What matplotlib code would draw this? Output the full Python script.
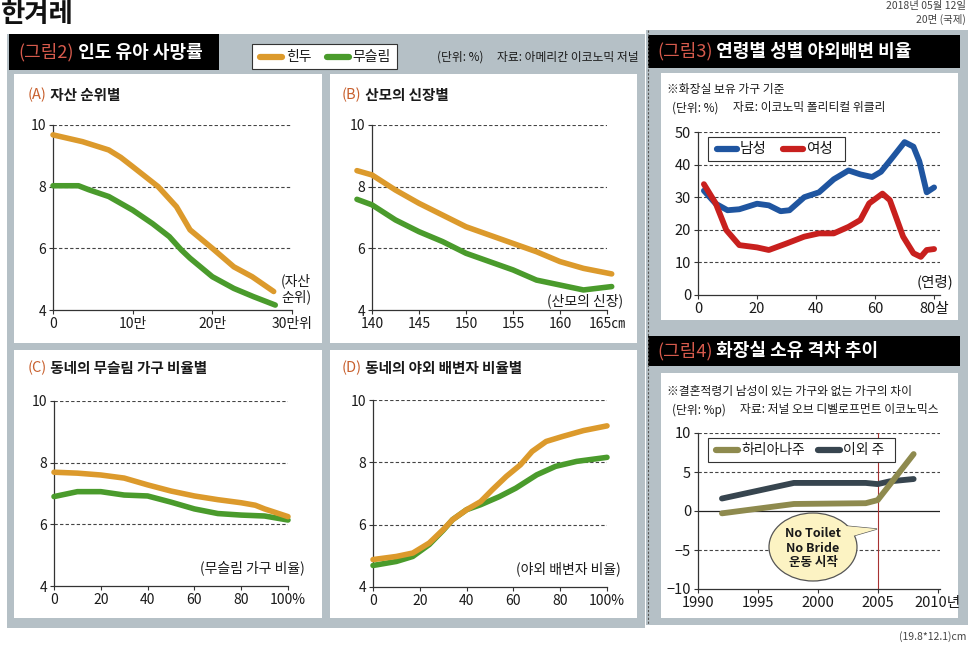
import matplotlib
matplotlib.use("Agg")
import matplotlib.pyplot as plt
from matplotlib.patches import Rectangle, Ellipse, Polygon

plt.rcParams['font.family'] = ['Noto Sans CJK KR', 'DejaVu Sans']

W, H = 970, 647

# ---- data ----
# (A) asset rank, x in 10,000s
A_hindu_x = [0, 3.7, 7, 8.5, 10, 13.2, 15.5, 17.2, 20, 22.7, 25, 27.7]
A_hindu = [9.68, 9.46, 9.19, 8.95, 8.65, 8.0, 7.35, 6.6, 6.0, 5.4, 5.08, 4.6]
A_muslim_x = [0, 3.2, 4.5, 7, 10, 12.5, 14.6, 16.1, 17.2, 20, 22.7, 25.2, 27.9]
A_muslim = [8.03, 8.03, 7.9, 7.68, 7.24, 6.8, 6.38, 5.95, 5.68, 5.08, 4.7, 4.43, 4.16]

# (B) mother's height, cm
B_x = [138.4, 140, 142.5, 145, 147.5, 150, 152.5, 155, 157.5, 160, 162.5, 165.5]
B_hindu = [8.52, 8.38, 7.89, 7.46, 7.08, 6.70, 6.43, 6.16, 5.89, 5.57, 5.35, 5.17]
B_muslim = [7.59, 7.41, 6.92, 6.54, 6.22, 5.84, 5.57, 5.30, 4.97, 4.81, 4.65, 4.76]

# (C) share of muslim households, %
C_hindu_x = [0, 10, 20, 30, 40, 50, 60, 70, 80, 86, 90, 100]
C_hindu = [7.69, 7.66, 7.6, 7.5, 7.28, 7.08, 6.92, 6.8, 6.7, 6.62, 6.5, 6.25]
C_muslim_x = [0, 10, 20, 30, 40, 50, 60, 70, 80, 90, 100]
C_muslim = [6.90, 7.06, 7.06, 6.95, 6.92, 6.72, 6.5, 6.35, 6.3, 6.27, 6.14]

# (D) share of open defecation, %
D_hindu_x = [0, 10, 17, 24, 30, 34, 40, 46, 51, 57, 63, 68, 74, 81, 90, 100]
D_hindu = [4.88, 4.98, 5.09, 5.41, 5.84, 6.16, 6.48, 6.74, 7.12, 7.55, 7.92, 8.35, 8.67, 8.83, 9.02, 9.17]
D_muslim_x = [0, 10, 17, 24, 30, 34, 40, 46, 54, 61, 70, 78, 87, 100]
D_muslim = [4.69, 4.82, 4.98, 5.36, 5.82, 6.16, 6.48, 6.64, 6.9, 7.17, 7.6, 7.87, 8.03, 8.16]

# fig 3: open defecation by age and sex
male_x = [2, 6, 10, 14, 20, 24, 28, 31, 36, 41, 46, 51, 55, 59, 62, 66, 70, 73, 75, 77.5, 80]
male = [32, 28, 26, 26.3, 28, 27.5, 25.7, 26, 30, 31.5, 35.5, 38.2, 37, 36.2, 37.8, 42.3, 46.9, 45.5, 41, 31.5, 33]
female_x = [2, 6, 9.6, 14, 20, 24, 30, 36, 41, 46, 51, 55, 58, 62.5, 65, 69.5, 73, 75.5, 77.5, 80]
female = [34, 28.1, 19.9, 15.3, 14.6, 13.8, 15.8, 17.9, 18.9, 18.9, 20.9, 23, 28.1, 31.1, 29.1, 17.9, 12.8, 11.7, 13.8, 14.1]

# fig 4: toilet gap, %p
haryana_yr = [1992, 1998, 2004, 2005, 2008]
haryana = [-0.3, 0.9, 1.0, 1.4, 7.3]
others_yr = [1992, 1998, 2004, 2005, 2006, 2008]
others = [1.6, 3.6, 3.6, 3.45, 3.8, 4.1]

ORANGE = '#dc9a2c'
GREEN = '#4a9b2c'
BLUE = '#1f55a0'
RED = '#c8201e'
OLIVE = '#8e8a4e'
SLATE = '#37454f'
GREY = '#b5c0c6'
TXT = '#1a1a1a'

fig = plt.figure(figsize=(9.7, 6.47), dpi=100)
fig.patch.set_facecolor('white')

bg = fig.add_axes([0, 0, 1, 1])
bg.set_xlim(0, W)
bg.set_ylim(H, 0)
bg.axis('off')


def box(x0, y0, x1, y1, **kw):
    bg.add_patch(Rectangle((x0, y0), x1 - x0, y1 - y0, **kw))


def rect(x0, y0, x1, y1):
    return [x0 / W, 1 - y1 / H, (x1 - x0) / W, (y1 - y0) / H]


# header
bg.text(1, 15, '한겨레', fontsize=19, fontweight='heavy', va='center', color='#111')
bg.text(966, 6, '2018년 05월 12일', fontsize=7.5, ha='right', va='center', color='#444')
bg.text(966, 19, '20면 (국제)', fontsize=7.5, ha='right', va='center', color='#444')
bg.text(966, 637, '(19.8*12.1)cm', fontsize=7.5, ha='right', va='center', color='#444')

# grey backgrounds
box(7, 34, 645, 628, fc=GREY, ec='none')
box(646, 30, 968, 625, fc=GREY, ec='none')
bg.plot([648, 648], [30, 625], color='#555', lw=0.8, ls=(0, (2, 1.5)))

# white sub panels
for x0, y0, x1, y1 in [(14, 74, 322, 343), (330, 74, 637, 343),
                       (14, 350, 322, 618), (330, 350, 637, 618),
                       (661, 73, 958, 320), (661, 373, 958, 618)]:
    box(x0, y0, x1, y1, fc='white', ec='none')

# black title bars
for x0, y0, x1, y1, num, title in [(9, 34, 219, 70, '(그림2)', ' 인도 유아 사망률'),
                                   (648, 35, 960, 68, '(그림3)', ' 연령별 성별 야외배변 비율'),
                                   (648, 336, 960, 366, '(그림4)', ' 화장실 소유 격차 추이')]:
    box(x0, y0, x1, y1, fc='black', ec='none')
    t = bg.text(x0 + 9, (y0 + y1) / 2, num, fontsize=13, color='#d65a4c', va='center')
    bg.annotate(title, xycoords=t, xy=(1, 0.5), va='center', fontsize=13, color='white',
                fontweight='bold')

# legend of fig 2
box(252, 44, 397, 69, fc='white', ec='#333', lw=0.8)
bg.plot([260, 282], [56.5, 56.5], color=ORANGE, lw=4.5, solid_capstyle='round')
bg.text(286, 56.5, '힌두', fontsize=10, va='center', color=TXT)
bg.plot([327, 349], [56.5, 56.5], color=GREEN, lw=4.5, solid_capstyle='round')
bg.text(352, 56.5, '무슬림', fontsize=10, va='center', color=TXT)
bg.text(437, 57, '(단위: %)', fontsize=8.5, va='center', color=TXT)
bg.text(497, 57, '자료: 아메리칸 이코노믹 저널', fontsize=8.5, va='center', color=TXT)

# panel headings
for x, y, lab, txt in [(28, 95, '(A)', ' 자산 순위별'), (342, 95, '(B)', ' 산모의 신장별'),
                       (28, 368, '(C)', ' 동네의 무슬림 가구 비율별'), (342, 368, '(D)', ' 동네의 야외 배변자 비율별')]:
    t = bg.text(x, y, lab, fontsize=10.5, color='#c8602e', va='center')
    bg.annotate(txt, xycoords=t, xy=(1, 0.5), va='center', fontsize=10.5,
                fontweight='bold', color=TXT)

# notes of fig 3 / fig 4
note = dict(fontsize=8.5, va='center', color=TXT)
bg.text(667, 90, '※화장실 보유 가구 기준', **note)
bg.text(672, 108, '(단위: %)', **note)
bg.text(733, 108, '자료: 이코노믹 폴리티컬 위클리', **note)
bg.text(667, 391, '※결혼적령기 남성이 있는 가구와 없는 가구의 차이', **note)
bg.text(672, 410, '(단위: %p)', **note)
bg.text(740, 410, '자료: 저널 오브 디벨로프먼트 이코노믹스', **note)


def style(ax, xlim, ylim, xticks, xlabels, yticks, grid_at, fs=10):
    ax.set_xlim(*xlim)
    ax.set_ylim(*ylim)
    ax.patch.set_alpha(0)
    for s in ['top', 'right']:
        ax.spines[s].set_visible(False)
    for s in ['left', 'bottom']:
        ax.spines[s].set_color('#333')
        ax.spines[s].set_linewidth(0.9)
    ax.set_xticks(xticks)
    ax.set_xticklabels(xlabels)
    ax.set_yticks(yticks)
    ax.tick_params(length=3, width=0.8, color='#333', labelsize=fs, pad=2, labelcolor=TXT)
    for g in grid_at:
        ax.axhline(g, color='#444', lw=0.8, ls=(0, (3, 2)), zorder=1)


def lines(ax, x1, y1, c1, x2, y2, c2, lw=4):
    ax.plot(x1, y1, color=c1, lw=lw, solid_capstyle='round', solid_joinstyle='round',
            clip_on=False, zorder=3)
    ax.plot(x2, y2, color=c2, lw=lw, solid_capstyle='round', solid_joinstyle='round',
            clip_on=False, zorder=3)


# (A)
axA = fig.add_axes(rect(53, 125, 292, 310))
style(axA, (0, 30), (4, 10), [0, 10, 20, 30], ['0', '10만', '20만', '30만위'], [4, 6, 8, 10], [6, 8, 10])
lines(axA, A_muslim_x, A_muslim, GREEN, A_hindu_x, A_hindu, ORANGE)
axA.text(32.4, 4.7, '(자산\n순위)', fontsize=10, ha='right', va='center', color=TXT, linespacing=1.1)

# (B)
axB = fig.add_axes(rect(372, 125, 607, 310))
style(axB, (140, 165), (4, 10), [140, 145, 150, 155, 160, 165],
      ['140', '145', '150', '155', '160', '165㎝'], [4, 6, 8, 10], [6, 8, 10])
lines(axB, B_x, B_muslim, GREEN, B_x, B_hindu, ORANGE)
axB.text(166.7, 4.3, '(산모의 신장)', fontsize=10, ha='right', va='center', color=TXT)

# (C)
axC = fig.add_axes(rect(54, 401, 288, 586))
style(axC, (0, 100), (4, 10), [0, 20, 40, 60, 80, 100], ['0', '20', '40', '60', '80', '100%'],
      [4, 6, 8, 10], [6, 8, 10])
lines(axC, C_muslim_x, C_muslim, GREEN, C_hindu_x, C_hindu, ORANGE)
axC.text(107, 4.6, '(무슬림 가구 비율)', fontsize=10, ha='right', va='center', color=TXT)

# (D)
axD = fig.add_axes(rect(373, 400, 607, 587))
style(axD, (0, 100), (4, 10), [0, 20, 40, 60, 80, 100], ['0', '20', '40', '60', '80', '100%'],
      [4, 6, 8, 10], [6, 8, 10])
lines(axD, D_muslim_x, D_muslim, GREEN, D_hindu_x, D_hindu, ORANGE)
axD.text(106, 4.6, '(야외 배변자 비율)', fontsize=10, ha='right', va='center', color=TXT)

# fig 3
ax3 = fig.add_axes(rect(698, 132, 940, 295))
style(ax3, (0, 82), (0, 50), [0, 20, 40, 60, 80], ['0', '20', '40', '60', '80살'],
      [0, 10, 20, 30, 40, 50], [10, 20, 30, 40, 50], fs=10.5)
lines(ax3, male_x, male, BLUE, female_x, female, RED, lw=4.2)
ax3.text(86.5, 4, '(연령)', fontsize=10.5, ha='right', va='center', color=TXT)

# fig 4
ax4 = fig.add_axes(rect(698, 433, 940, 589))
style(ax4, (1990, 2010.2), (-10, 10), [1990, 1995, 2000, 2005, 2010],
      ['1990', '1995', '2000', '2005', '2010년'], [-10, -5, 0, 5, 10], [-5, 5, 10], fs=10.5)
ax4.axhline(0, color='#222', lw=0.9, zorder=1)
ax4.axvline(2005, color='#a83232', lw=0.8, zorder=2)
lines(ax4, others_yr, others, SLATE, haryana_yr, haryana, OLIVE, lw=4.2)

# overlay for legends/callout that sit over the plots
top = fig.add_axes([0, 0, 1, 1])
top.set_xlim(0, W)
top.set_ylim(H, 0)
top.axis('off')

top.add_patch(Rectangle((708, 137), 137, 24, fc='white', ec='#333', lw=0.8))
top.plot([717, 737], [149, 149], color=BLUE, lw=4.5, solid_capstyle='round')
top.text(740, 149, '남성', fontsize=10.5, va='center', color=TXT)
top.plot([783, 803], [149, 149], color=RED, lw=4.5, solid_capstyle='round')
top.text(806, 149, '여성', fontsize=10.5, va='center', color=TXT)

top.add_patch(Rectangle((708, 438), 187, 24, fc='white', ec='#333', lw=0.8))
top.plot([716, 738], [450, 450], color=OLIVE, lw=4.5, solid_capstyle='round')
top.text(741, 450, '하리아나주', fontsize=10, va='center', color=TXT)
top.plot([818, 840], [450, 450], color=SLATE, lw=4.5, solid_capstyle='round')
top.text(843, 450, '이외 주', fontsize=10, va='center', color=TXT)

tail = [(846, 526), (853, 536), (877, 529)]
top.add_patch(Polygon(tail, closed=True, fc='#fcf3c3', ec='#555', lw=0.9))
top.add_patch(Ellipse((813, 547), 88, 68, fc='#fcf3c3', ec='#555', lw=0.9))
top.add_patch(Polygon(tail, closed=True, fc='#fcf3c3', ec='none'))
top.text(813, 548, 'No Toilet\nNo Bride\n운동 시작', fontsize=9, fontweight='bold',
         ha='center', va='center', color=TXT, linespacing=1.15)

fig.savefig('out.png', dpi=100)
